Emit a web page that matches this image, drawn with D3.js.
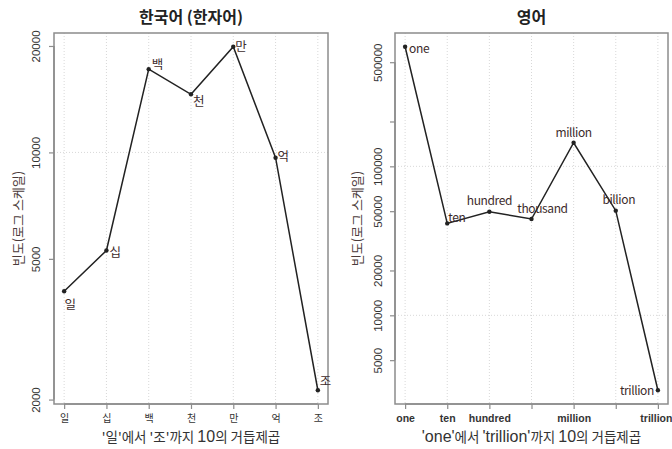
<!DOCTYPE html>
<html><head><meta charset="utf-8">
<script src="https://cdn.jsdelivr.net/npm/d3@7"></script>
<style>
body{margin:0;background:#fff;}
svg{display:block;}
</style></head>
<body><svg id="c" width="672" height="449"></svg>
<script>
// ---- data ----
const koCategories = ["일","십","백","천","만","억","조"];
const koValues = [4050, 5280, 17200, 14600, 19900, 9660, 2125];
const koYTicks = [2000, 5000, 10000, 20000];
const enCategories = ["one","ten","hundred","thousand","million","billion","trillion"];
const enValues = [635000, 41400, 49600, 44300, 144000, 50400, 3140];
const enYTicks = [5000, 10000, 20000, 50000, 100000, 200000, 500000];
const enYTickLabels = ["5000","10000","20000","50000","100000","","500000"];
const enXTickLabels = ["one","ten","hundred","","million","","trillion"];
const koTitle = "한국어 (한자어)";
const enTitle = "영어";
const yTitle = "빈도(로그 스케일)";

const svg = d3.select("#c");
const CJK = "'Noto Sans CJK KR','Noto Sans',sans-serif";
const LAT = "'Liberation Sans',Arial,sans-serif";

function panel(o){
  const g = svg.append("g");
  const L=o.left, R=o.right, T=33, B=404;
  const n = o.cats.length;
  const x = d3.scaleLinear().domain([1-0.24, n+0.24]).range([L, R]);
  const lv = o.values.map(v=>Math.log10(v));
  const lo = d3.min(lv), hi = d3.max(lv), pad=(hi-lo)*0.04;
  const y = d3.scaleLog().domain([Math.pow(10,lo-pad), Math.pow(10,hi+pad)]).range([B, T]);

  // grid
  const grid = g.append("g").attr("stroke","#d8d8d8").attr("stroke-dasharray","1,2").attr("stroke-width",1);
  o.cats.forEach((c,i)=>{
    grid.append("line").attr("x1",x(i+1)).attr("x2",x(i+1)).attr("y1",T).attr("y2",B);
  });
  o.gridY.forEach(v=>{
    grid.append("line").attr("x1",L).attr("x2",R).attr("y1",y(v)).attr("y2",y(v));
  });

  // box
  g.append("rect").attr("x",L).attr("y",T).attr("width",R-L).attr("height",B-T)
    .attr("fill","none").attr("stroke","#8c8c8c").attr("stroke-width",1.5);

  // x axis
  const xa = d3.axisBottom(x).tickValues(d3.range(1,n+1)).tickSize(5).tickSizeOuter(0)
    .tickFormat((d,i)=>o.xTickLabels[i]);
  const gx = g.append("g").attr("transform",`translate(0,${B})`).call(xa);
  gx.select(".domain").attr("stroke","#8c8c8c").attr("stroke-width",1.5)
    .attr("d",`M${x(1)},0H${x(n)}`);
  gx.selectAll(".tick line").attr("stroke","#8c8c8c").attr("stroke-width",1.2);
  gx.selectAll(".tick text").attr("dy",null).attr("y",18)
    .attr("font-family",o.xTickFont).attr("font-size",o.xTickSize).attr("font-weight",o.xTickWeight)
    .attr("fill","#333")
    .attr("text-anchor",(d,i)=>i===n-1 && o.lastTickEnd ? "end" : "middle")
    .attr("x",(d,i)=>i===n-1 && o.lastTickEnd ? 14 : 0);

  // y axis
  const ya = d3.axisLeft(y).tickValues(o.yTicks).tickSize(5).tickSizeOuter(0)
    .tickFormat((d,i)=>o.yTickLabels[i]);
  const gy = g.append("g").attr("transform",`translate(${L},0)`).call(ya);
  gy.select(".domain").attr("stroke","#8c8c8c").attr("stroke-width",1.5)
    .attr("d",`M0,${y(o.yTicks[0])}V${y(o.yTicks[o.yTicks.length-1])}`);
  gy.selectAll(".tick line").attr("stroke","#8c8c8c").attr("stroke-width",1.2);
  gy.selectAll(".tick text").attr("x",null).attr("dy",null)
    .attr("transform",`translate(${-o.yLabelOff},0) rotate(-90)`)
    .attr("text-anchor","middle").attr("dominant-baseline","central")
    .attr("font-family",LAT).attr("font-size",11.5).attr("fill","#333");

  // line + points
  const pts = o.values.map((v,i)=>[x(i+1), y(v)]);
  g.append("path").attr("d",d3.line()(pts)).attr("fill","none").attr("stroke","#222").attr("stroke-width",1.5);
  g.selectAll("circle.p").data(pts).join("circle").attr("cx",d=>d[0]).attr("cy",d=>d[1]).attr("r",2.2).attr("fill","#222");

  // point labels
  g.selectAll("text.lab").data(o.cats).join("text")
    .attr("x",(d,i)=>pts[i][0]+o.labOff[i][0]).attr("y",(d,i)=>pts[i][1]+o.labOff[i][1])
    .attr("text-anchor",(d,i)=>o.labOff[i][2]).attr("dominant-baseline","central")
    .attr("font-family",CJK).attr("font-size",o.labSize).attr("fill","#3d2b2b")
    .attr("letter-spacing",o.labSpacing)
    .text(d=>d);

  // titles
  const cx=(L+R)/2;
  svg.append("text").attr("x",cx).attr("y",23).attr("text-anchor","middle")
    .attr("font-family",CJK).attr("font-weight","bold").attr("font-size",16).attr("fill","#222").text(o.title);
  svg.append("text").attr("transform",`translate(${o.yTitleX},${(T+B)/2}) rotate(-90)`)
    .attr("text-anchor","middle").attr("dominant-baseline","central")
    .attr("font-family",CJK).attr("font-size",13).attr("fill","#4a3a3a").text(yTitle);
  const xt = svg.append("text").attr("x",cx).attr("y",442).attr("text-anchor","middle")
    .attr("font-size",14).attr("fill","#333");
  o.xTitleParts.forEach(p=>{
    xt.append("tspan").attr("font-family",p[1]?LAT:CJK).attr("font-size",p[1]?16:13.5).text(p[0]);
  });
}

panel({
  left:54, right:328, cats:koCategories, values:koValues,
  yTicks:koYTicks, yTickLabels:koYTicks.map(String),
  xTickLabels:koCategories, xTickFont:CJK, xTickSize:10, xTickWeight:"normal", lastTickEnd:false,
  gridY:[10000], yLabelOff:18, yTitleX:17,
  labSize:12.5, labSpacing:0,
  labOff:[[6,12,"middle"],[3,1,"start"],[3,-6,"start"],[2,6,"start"],[2,-1,"start"],[2,-2,"start"],[2,-10,"start"]],
  title:koTitle,
  xTitleParts:[["'일'에서 '조'까지 ",false],["10",true],["의 거듭제곱",false]]
});
panel({
  left:395, right:668, cats:enCategories, values:enValues,
  yTicks:enYTicks, yTickLabels:enYTickLabels,
  xTickLabels:enXTickLabels, xTickFont:LAT, xTickSize:10.5, xTickWeight:"bold", lastTickEnd:true,
  gridY:[10000,100000], yLabelOff:17, yTitleX:356,
  labSize:12, labSpacing:-0.4,
  labOff:[[4,1,"start"],[1,-7,"start"],[0,-12,"middle"],[11,-12,"middle"],[0,-11,"middle"],[3,-12,"middle"],[-4,-1,"end"]],
  title:enTitle,
  xTitleParts:[["'one'",true],["에서 ",false],["'trillion'",true],["까지 ",false],["10",true],["의 거듭제곱",false]]
});
</script></body></html>
